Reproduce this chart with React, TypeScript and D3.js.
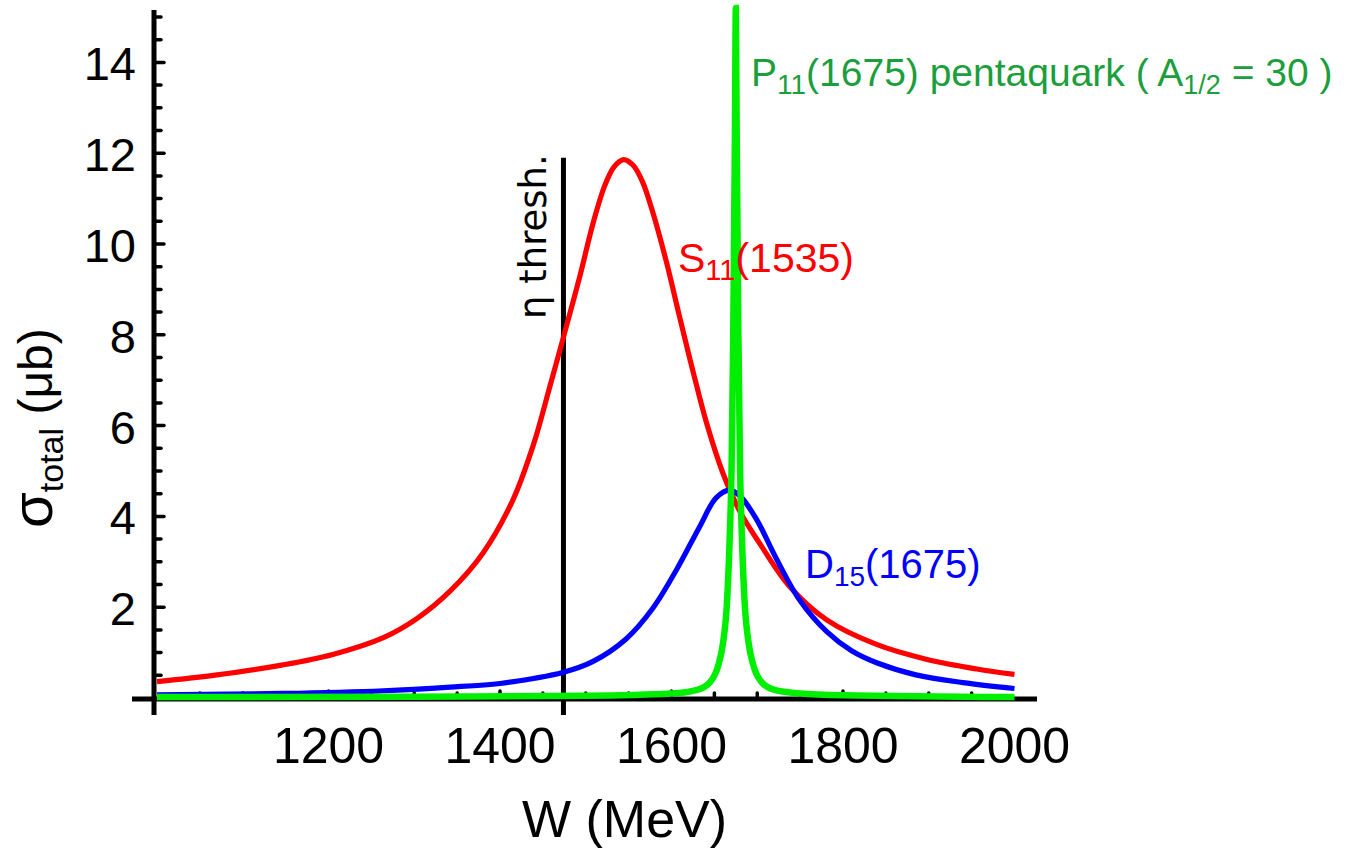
import React from "react";
import * as d3 from "d3";

// ---- data ----
const xDomain: [number, number] = [1000, 2000];
const yDomain: [number, number] = [0, 15];
const xTickValues = [1200, 1400, 1600, 1800, 2000];
const yTickValues = [2, 4, 6, 8, 10, 12, 14];
const etaThresholdW = 1474;
const etaLineTop = 11.9;

// S11(1535): [W (MeV), sigma (ub)]
const s11Points: [number, number][] = [
  [1000, 0.36], [1070, 0.51], [1147, 0.73], [1205, 0.96], [1264, 1.33],
  [1303, 1.75], [1342, 2.36], [1380, 3.19], [1415, 4.36], [1439, 5.58],
  [1458, 6.85], [1474, 7.95], [1493, 9.28], [1508, 10.42], [1522, 11.28],
  [1533, 11.70], [1544, 11.86], [1555, 11.74], [1566, 11.38], [1578, 10.71],
  [1594, 9.61], [1610, 8.35], [1625, 7.2], [1641, 6.05], [1660, 4.95],
  [1680, 4.1], [1703, 3.4], [1738, 2.45], [1781, 1.72], [1839, 1.18],
  [1898, 0.85], [1956, 0.64], [2000, 0.52],
];

// D15(1675)
const d15Points: [number, number][] = [
  [1000, 0.07], [1147, 0.1], [1264, 0.16], [1342, 0.24], [1400, 0.32],
  [1439, 0.43], [1473, 0.56], [1508, 0.8], [1547, 1.3], [1578, 1.97],
  [1606, 2.83], [1633, 3.78], [1652, 4.41], [1668, 4.58], [1680, 4.45],
  [1699, 3.94], [1722, 3.08], [1750, 2.14], [1781, 1.46], [1810, 1.04],
  [1840, 0.77], [1885, 0.51], [1940, 0.34], [2000, 0.21],
];

// P11(1675) pentaquark
const p11Points: [number, number][] = [
  [1000, 0.02], [1300, 0.03], [1500, 0.05], [1600, 0.1], [1630, 0.18],
  [1645, 0.35], [1655, 0.75], [1660, 1.2], [1665, 2.2], [1668, 3.6],
  [1670, 5.0], [1672, 8.0], [1674, 12.5], [1675, 15.2], [1676, 12.5],
  [1678, 8.0], [1680, 5.0], [1682, 3.6], [1685, 2.2], [1690, 1.2],
  [1695, 0.75], [1705, 0.35], [1720, 0.18], [1750, 0.1], [1800, 0.06],
  [2000, 0.02],
];

const FONT = "'Liberation Sans', Arial, Helvetica, sans-serif";

export default function App() {
  const x = d3.scaleLinear().domain(xDomain).range([157, 1014.5]);
  const y = d3.scaleLinear().domain(yDomain).range([698, 698 - 15 * 45.4]);

  const smooth = d3
    .line<[number, number]>()
    .x((d) => x(d[0]))
    .y((d) => y(d[1]))
    .curve(d3.curveCatmullRom.alpha(0.5));

  const sharp = d3
    .line<[number, number]>()
    .x((d) => x(d[0]))
    .y((d) => y(d[1]))
    .curve(d3.curveMonotoneX);

  const axisX = 154;
  const axisY = 699;

  const yMinor = d3.range(0.5, 15.01, 0.5);
  const xMinor = d3.range(1050, 2000, 50);

  return (
    <svg
      width={1372}
      height={849}
      style={{ position: "absolute", left: 0, top: 0, background: "#fff" }}
    >
      {/* y axis */}
      <line x1={axisX} x2={axisX} y1={10} y2={715} stroke="#000" strokeWidth={5} />
      {yMinor.map((v) => {
        const major = Math.abs(v % 2) < 1e-6;
        return (
          <line
            key={"yt" + v}
            x1={axisX}
            x2={axisX + (major ? 10 : 7)}
            y1={y(v)}
            y2={y(v)}
            stroke="#000"
            strokeWidth={3.5}
            strokeLinecap="round"
          />
        );
      })}
      {yTickValues.map((v) => (
        <text
          key={"yl" + v}
          x={136}
          y={y(v) + 18}
          textAnchor="end"
          fontFamily={FONT}
          fontSize={47}
        >
          {v}
        </text>
      ))}

      {/* x axis */}
      <line x1={132} x2={1037} y1={axisY} y2={axisY} stroke="#000" strokeWidth={5} />
      {xMinor.map((v) => (
        <line
          key={"xt" + v}
          x1={x(v)}
          x2={x(v)}
          y1={axisY}
          y2={axisY - (v % 200 === 0 ? 8 : 6)}
          stroke="#000"
          strokeWidth={3.5}
          strokeLinecap="round"
        />
      ))}
      {xTickValues.map((v) => (
        <text
          key={"xl" + v}
          x={x(v)}
          y={763}
          textAnchor="middle"
          fontFamily={FONT}
          fontSize={50}
        >
          {v}
        </text>
      ))}

      {/* eta threshold */}
      <line
        x1={x(etaThresholdW)}
        x2={x(etaThresholdW)}
        y1={y(etaLineTop)}
        y2={715}
        stroke="#000"
        strokeWidth={5}
      />
      <text
        transform={`translate(546, 319) rotate(-90)`}
        fontFamily="'DejaVu Sans', sans-serif"
        fontSize={37}
      >
        η thresh.
      </text>

      {/* curves */}
      <path d={smooth(s11Points) || ""} fill="none" stroke="#ff0000" strokeWidth={5.2} />
      <path d={smooth(d15Points) || ""} fill="none" stroke="#0000ff" strokeWidth={5.2} />
      <path d={sharp(p11Points) || ""} fill="none" stroke="#00ee00" strokeWidth={6.5} />

      {/* curve labels */}
      <text x={678} y={272} fontFamily={FONT} fontSize={41} fill="#ff0000">
        S<tspan fontSize={29} dy={8}>11</tspan>
        <tspan dy={-8}>(1535)</tspan>
      </text>
      <text x={805} y={578} fontFamily={FONT} fontSize={40} fill="#0000ff">
        D<tspan fontSize={28} dy={8}>15</tspan>
        <tspan dy={-8}>(1675)</tspan>
      </text>
      <text x={751} y={86} fontFamily={FONT} fontSize={39} fill="#1b9e3c">
        P<tspan fontSize={28} dy={8}>11</tspan>
        <tspan dy={-8}>(1675) pentaquark ( A</tspan>
        <tspan fontSize={27} dy={8}>1/2</tspan>
        <tspan dy={-8}> = 30 )</tspan>
      </text>

      {/* axis titles */}
      <text x={522} y={837} fontFamily={FONT} fontSize={52}>
        W (MeV)
      </text>
      <text transform="translate(52, 528) rotate(-90)" fontFamily={FONT} fontSize={48}>
        <tspan fontSize={58}>σ</tspan>
        <tspan fontSize={34} dy={11}>total</tspan>
        <tspan dy={-11}> (μb)</tspan>
      </text>
    </svg>
  );
}
